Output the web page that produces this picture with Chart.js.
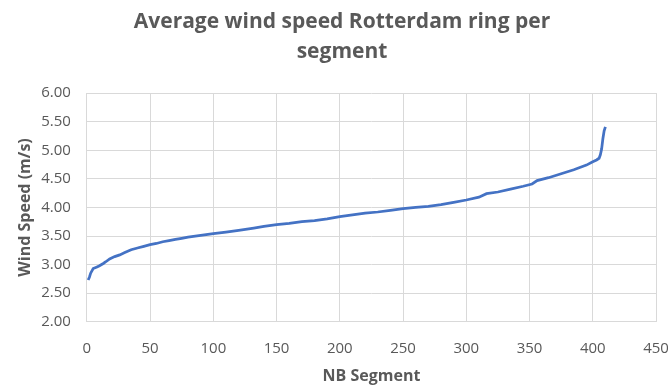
<!DOCTYPE html>
<html>
<head>
<meta charset="utf-8">
<script src="https://cdn.jsdelivr.net/npm/chart.js@4/dist/chart.umd.min.js"></script>
<style>
  html, body { margin: 0; padding: 0; background: #ffffff; }
  #wrap { width: 668px; height: 385px; }
</style>
</head>
<body>
<div id="wrap"><canvas id="c" width="668" height="385"></canvas></div>
<script>
// Segment numbers (sorted by wind speed) and their average wind speed in m/s
const segments = [1, 2, 3, 5, 8, 10, 13, 15, 18, 22, 26, 30, 35, 40, 45, 50, 55, 60, 65, 70,
  75, 80, 90, 100, 110, 120, 132, 140, 150, 160, 170, 180, 190, 200, 210, 220, 230, 240, 250,
  260, 270, 280, 290, 300, 310, 316, 325, 335, 345, 352, 356, 365, 375, 385, 395, 400, 403,
  405, 406, 407, 408, 409, 410];
const windSpeed = [2.73, 2.78, 2.85, 2.93, 2.96, 2.98, 3.02, 3.05, 3.10, 3.14, 3.17, 3.21, 3.26,
  3.29, 3.32, 3.35, 3.37, 3.40, 3.42, 3.44, 3.46, 3.48, 3.51, 3.54, 3.57, 3.60, 3.64, 3.67,
  3.70, 3.72, 3.75, 3.77, 3.80, 3.84, 3.87, 3.90, 3.92, 3.95, 3.98, 4.00, 4.02, 4.05, 4.09,
  4.13, 4.18, 4.24, 4.27, 4.32, 4.37, 4.41, 4.47, 4.52, 4.59, 4.66, 4.74, 4.80, 4.83, 4.86,
  4.92, 5.02, 5.20, 5.34, 5.41];

const xTicks = [0, 50, 100, 150, 200, 250, 300, 350, 400, 450];
const yTicks = [2.0, 2.5, 3.0, 3.5, 4.0, 4.5, 5.0, 5.5, 6.0];

const titleLines = ['Average wind speed Rotterdam ring per', 'segment'];
const xTitle = 'NB Segment';
const yTitle = 'Wind Speed (m/s)';

const points = segments.map((s, i) => ({ x: s, y: windSpeed[i] }));

const gray = '#595959';
const grid = '#d9d9d9';
const fontFamily = '"Open Sans", Lato, sans-serif';

new Chart(document.getElementById('c'), {
  type: 'scatter',
  data: {
    datasets: [{
      data: points,
      showLine: true,
      borderColor: '#4472C4',
      borderWidth: 2.75,
      pointRadius: 0,
      tension: 0,
      fill: false
    }]
  },
  options: {
    responsive: false,
    animation: false,
    layout: { padding: { left: 16, right: 0, top: 7, bottom: -1 } },
    plugins: {
      legend: { display: false },
      tooltip: { enabled: false },
      title: {
        display: true,
        text: titleLines,
        color: gray,
        font: { family: fontFamily, size: 21, weight: 'bold', lineHeight: 1.43 },
        padding: { top: 0, bottom: 26 }
      }
    },
    scales: {
      x: {
        type: 'linear',
        min: 0,
        max: 450,
        afterBuildTicks: (axis) => { axis.ticks = xTicks.map(v => ({ value: v })); },
        // let the last tick label run close to the canvas edge
        afterFit: (axis) => { axis.paddingRight = 12; },
        grid: { color: grid, lineWidth: 1, drawTicks: false },
        border: { color: grid, width: 1 },
        ticks: { color: gray, font: { family: fontFamily, size: 15 }, padding: 18, maxRotation: 0 },
        title: {
          display: true, text: xTitle, color: gray,
          font: { family: fontFamily, size: 16, weight: 'bold' },
          padding: { top: -9, bottom: 0 }
        }
      },
      y: {
        type: 'linear',
        min: 2,
        max: 6,
        afterBuildTicks: (axis) => { axis.ticks = yTicks.map(v => ({ value: v })); },
        grid: { color: grid, lineWidth: 1, drawTicks: false },
        border: { color: grid, width: 1 },
        ticks: {
          color: gray, font: { family: fontFamily, size: 15 }, padding: 16,
          callback: (v) => Number(v).toFixed(2)
        },
        title: {
          display: true, text: yTitle, color: gray,
          font: { family: fontFamily, size: 16, weight: 'bold' },
          padding: { top: 0, bottom: -10 }
        }
      }
    }
  }
});
</script>
</body>
</html>
